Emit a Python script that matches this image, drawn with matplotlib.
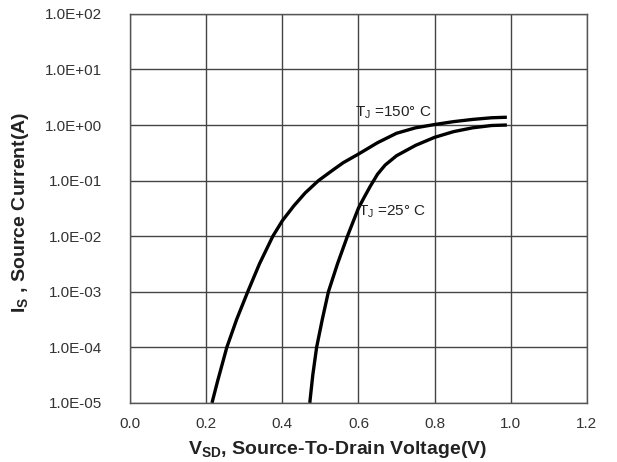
import matplotlib
matplotlib.use('Agg')
import matplotlib.pyplot as plt
from matplotlib.ticker import FixedLocator, FixedFormatter

plt.rcParams['font.family'] = 'Liberation Sans'
plt.rcParams['mathtext.fontset'] = 'custom'
plt.rcParams['mathtext.rm'] = 'Liberation Sans'
plt.rcParams['mathtext.bf'] = 'Liberation Sans:bold'

# source-drain diode forward characteristics
v_150 = [0.215, 0.23, 0.254, 0.28, 0.309, 0.34, 0.375, 0.40, 0.43, 0.46, 0.495,
         0.53, 0.56, 0.60, 0.65, 0.70, 0.75, 0.80, 0.85, 0.90, 0.95, 0.99]
i_150 = [1.0e-5, 2.5e-5, 1.0e-4, 3.2e-4, 1.0e-3, 3.2e-3, 1.0e-2, 1.9e-2, 3.5e-2, 6.0e-2, 0.10,
         0.15, 0.21, 0.30, 0.48, 0.71, 0.89, 1.02, 1.15, 1.26, 1.35, 1.38]

v_25 = [0.472, 0.48, 0.49, 0.505, 0.521, 0.545, 0.571, 0.60, 0.615, 0.631, 0.65, 0.67,
        0.70, 0.75, 0.80, 0.85, 0.90, 0.95, 0.99]
i_25 = [1.0e-5, 3.2e-5, 1.0e-4, 3.2e-4, 1.0e-3, 3.2e-3, 1.0e-2, 3.2e-2, 0.05, 0.079, 0.13, 0.19,
        0.28, 0.43, 0.60, 0.76, 0.89, 0.98, 1.0]

x_ticks = [0.0, 0.2, 0.4, 0.6, 0.8, 1.0, 1.2]
x_labels = ['0.0', '0.2', '0.4', '0.6', '0.8', '1.0', '1.2']
y_ticks = [1e-5, 1e-4, 1e-3, 1e-2, 1e-1, 1e0, 1e1, 1e2]
y_labels = ['1.0E-05', '1.0E-04', '1.0E-03', '1.0E-02', '1.0E-01',
            '1.0E+00', '1.0E+01', '1.0E+02']

fig = plt.figure(figsize=(6.17, 4.62), dpi=100)
ax = fig.add_axes([0.211, 0.128, 0.740, 0.842])

ax.plot(v_150, i_150, color='black', lw=2.4, solid_capstyle='butt')
ax.plot(v_25, i_25, color='black', lw=2.4, solid_capstyle='butt')

ax.set_yscale('log')
ax.set_xlim(0, 1.2)
ax.set_ylim(1e-5, 1e2)
ax.xaxis.set_major_locator(FixedLocator(x_ticks))
ax.xaxis.set_major_formatter(FixedFormatter(x_labels))
ax.yaxis.set_major_locator(FixedLocator(y_ticks))
ax.yaxis.set_major_formatter(FixedFormatter(y_labels))
ax.yaxis.set_minor_locator(FixedLocator([]))
ax.tick_params(length=0, labelsize=11, labelcolor='#333333')
ax.tick_params(axis='y', pad=20)
ax.tick_params(axis='x', pad=10)

ax.grid(True, color='#444444', lw=1.0)
for s in ax.spines.values():
    s.set_color('#555555')
    s.set_linewidth(1.0)

ax.text(0.59, 10**0.23, r'T$_{\rm J}$ =150° C', fontsize=11, color='#222222',
        ha='left', va='center')
ax.text(0.60, 10**-1.56, r'T$_{\rm J}$ =25° C', fontsize=11, color='#222222',
        ha='left', va='center')

ax.set_xlabel(r'$\mathbf{V_{SD}}$, Source-To-Drain Voltage(V)', fontsize=14,
              fontweight='bold', color='#222222')
ax.set_ylabel(r'$\mathbf{I_{S}}$ , Source Current(A)', fontsize=14,
              fontweight='bold', color='#222222')
ax.xaxis.set_label_coords(0.455, -0.092)
ax.yaxis.set_label_coords(-0.218, 0.49)

fig.savefig('out.png', dpi=100)
